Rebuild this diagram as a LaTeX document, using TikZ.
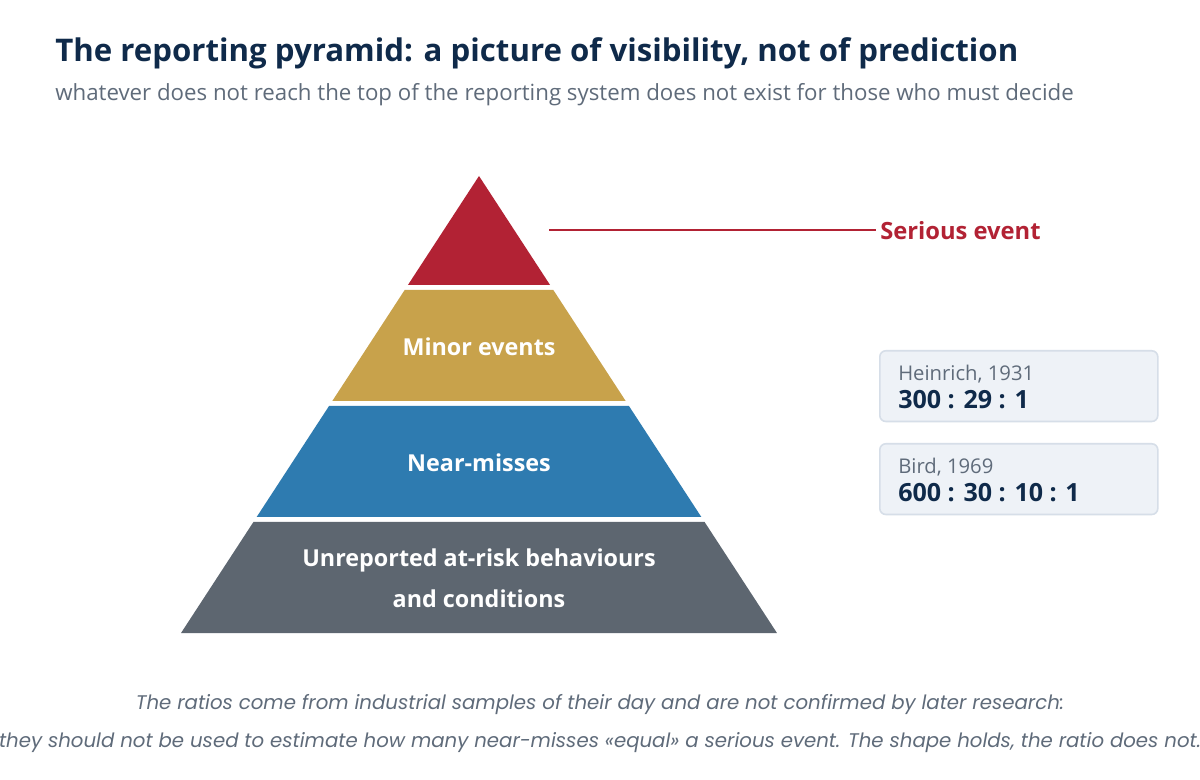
\documentclass[tikz,border=0pt]{standalone}
\usepackage{fontspec}
\setmainfont{Open Sans}
\newfontfamily\notefont{Poppins}
\usetikzlibrary{positioning}
\definecolor{navy}{HTML}{0F2A4A}
\definecolor{slate}{HTML}{5F6B7A}
\definecolor{seriousred}{HTML}{B22234}
\definecolor{minorgold}{HTML}{C8A24B}
\definecolor{nearblue}{HTML}{2E7BB0}
\definecolor{unrepgray}{HTML}{5D6670}
\definecolor{boxfill}{HTML}{EEF2F7}
\definecolor{boxline}{HTML}{D6DEE8}
\tikzset{tierlabel/.style = {text = white, font = \fontsize{17.5}{30.75}\selectfont\bfseries,
                             align = center, inner sep = 0}}
\tikzset{ratiobox/.style = {draw = boxline, fill = boxfill, line width = 1.2pt,
                            rounded corners = 4.5pt, minimum width = 208.5pt,
                            minimum height = 53pt}}
\tikzset{source/.style = {text = slate, font = \fontsize{15.2}{18}\selectfont, anchor = base west,
                          inner sep = 0}}
\tikzset{ratio/.style = {text = navy, font = \fontsize{18.8}{22}\selectfont\bfseries, anchor = base west,
                         inner sep = 0}}

\begin{document}
\begin{tikzpicture}[x=0.75pt, y=-0.75pt]
    \useasboundingbox [fill = white] (0, 0) rectangle (1200, 780);

    \node [anchor = base west, inner sep = 0, text = navy, font = \fontsize{23.4}{28}\selectfont\bfseries]
      (title) at (55, 62) {The reporting pyramid: a picture of visibility, not of prediction};
    \node [anchor = base west, inner sep = 0, text = slate, font = \fontsize{16.7}{20}\selectfont]
      (subtitle) at (55, 101) {whatever does not reach the top of the reporting system does not exist for those who must decide};

    % tiers, top to bottom
    \fill [seriousred] (479, 176) -- ({479+(285-176)*0.652}, 285) -- ({479-(285-176)*0.652}, 285) -- cycle;
    \foreach \t/\b/\col in {290/401/minorgold, 406/517/nearblue, 522/633/unrepgray} {
      \fill [\col] ({479-(\t-176)*0.652}, \t) -- ({479+(\t-176)*0.652}, \t)
                -- ({479+(\b-176)*0.652}, \b) -- ({479-(\b-176)*0.652}, \b) -- cycle;
    }
    \node [tierlabel] (minor) at (479, 347) {Minor events};
    \node [tierlabel] (near) at (479, 463) {Near-misses};
    \node [tierlabel] (unrep) at (479, 578) {Unreported at-risk behaviours\\and conditions};

    \coordinate (apexside) at (549, 230);
    \node [anchor = west, inner sep = 0, text = seriousred, font = \fontsize{17.8}{21}\selectfont\bfseries]
      (serious) at (880, 231) {Serious event};
    \draw [seriousred, line width = 1.8pt] (apexside) -- ([xshift = -3pt] serious.west |- apexside);

    \node [ratiobox, anchor = north west] (heinrich) at (879, 350) {};
    \node [ratiobox, anchor = north west] (bird) at (879, 443) {};
    \node [source] (heinrichsrc) at (898, 381) {Heinrich, 1931};
    \node [ratio] (heinrichval) at (898, 409) {300 : 29 : 1};
    \node [source] (birdsrc) at (898, 474) {Bird, 1969};
    \node [ratio] (birdval) at (898, 502) {600 : 30 : 10 : 1};

    \node [anchor = base, text = slate, font = \notefont\itshape\fontsize{14.8}{17}\selectfont]
      (note1) at (600, 709) {The ratios come from industrial samples of their day and are not confirmed by later research:};
    \node [anchor = base, text = slate, font = \notefont\itshape\fontsize{14.8}{17}\selectfont]
      (note2) at (600, 747) {they should not be used to estimate how many near-misses «equal» a serious event. The shape holds, the ratio does not.};
  \end{tikzpicture}
\end{document}
